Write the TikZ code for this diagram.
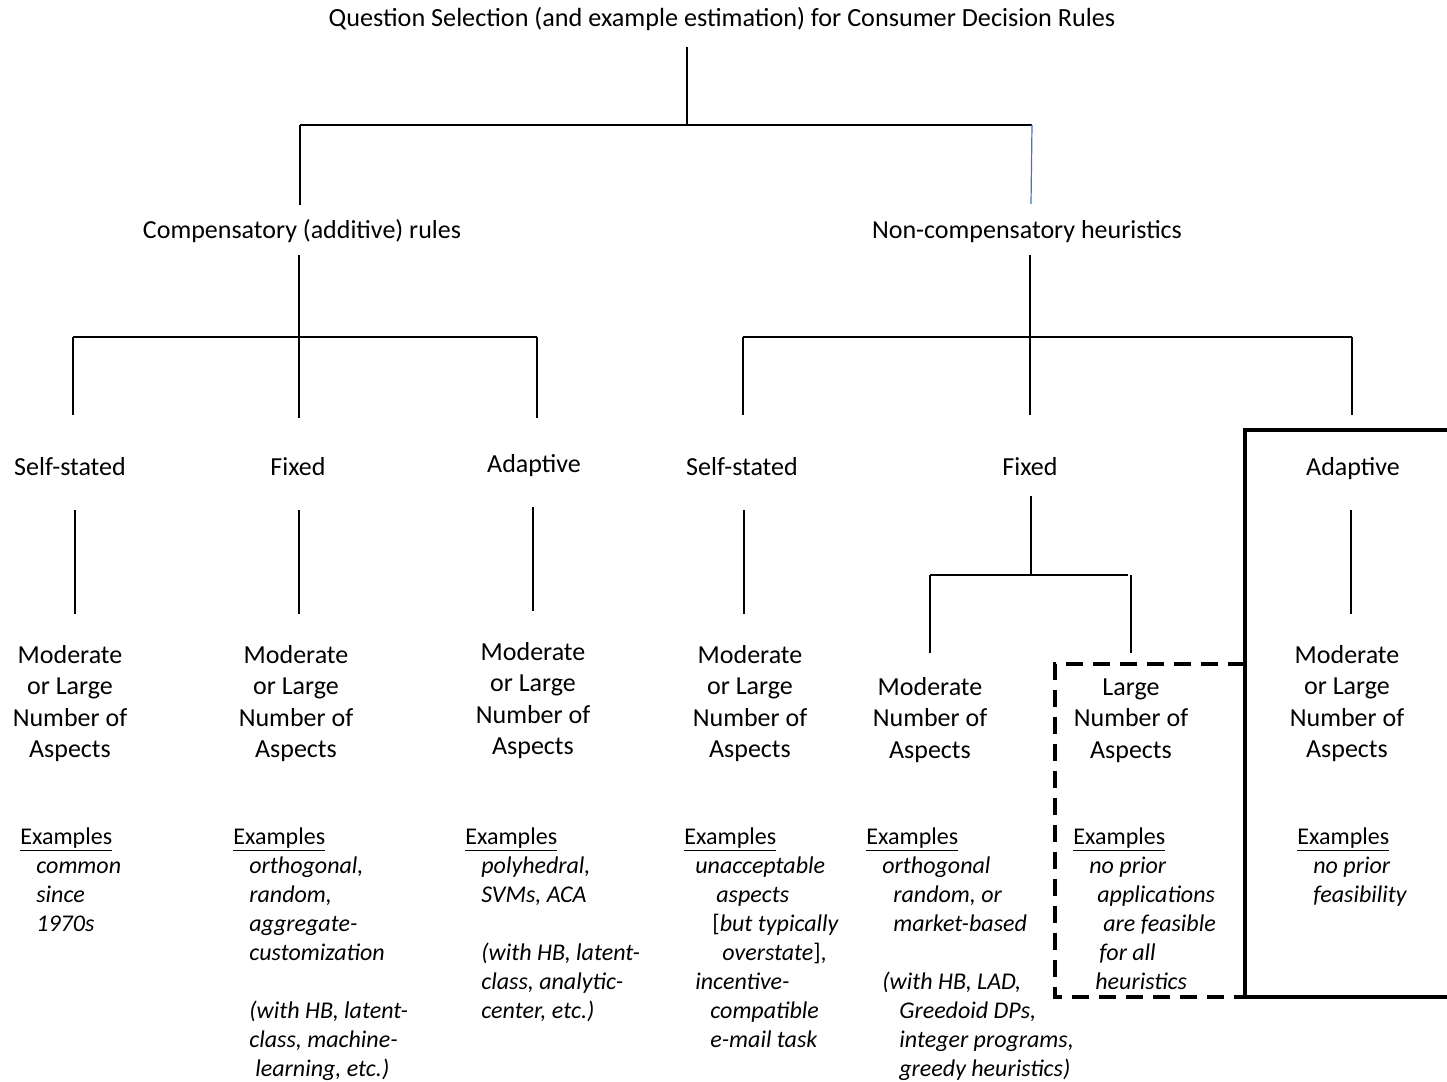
\documentclass[tikz,border=0pt]{standalone}
\usepackage{fontspec}
\setmainfont{Carlito}
\newcommand{\blk}[2]{\begin{tabular}[t]{@{}#1@{}}#2\end{tabular}}
\tikzset{
  lbl/.style={inner sep=0pt, anchor=base, font=\fontsize{13}{15.75}\selectfont},
  ttl/.style={inner sep=0pt, anchor=base, font=\fontsize{13.1}{15.75}\selectfont},
  asp/.style={inner sep=0pt, anchor=base, font=\fontsize{13}{15.75}\selectfont},
  exm/.style={inner sep=0pt, anchor=base west, font=\fontsize{12}{14.5}\selectfont},
  conn/.style={line width=0.8pt, black},
  blueconn/.style={line width=0.6pt, color={rgb,255:red,68;green,114;blue,196}},
  solidbox/.style={line width=1.9pt, black},
  dashbox/.style={line width=1.7pt, black, dash pattern=on 8.5pt off 5pt}
}
\begin{document}
\begin{tikzpicture}[x=0.5pt,y=-0.5pt]
\useasboundingbox (0,0) rectangle (1447,1082);

% ---------- labels ----------
\node[ttl] (title) at (722,26) {Question Selection (and example estimation) for Consumer Decision Rules};
\node[lbl] (comp) at (302,238) {Compensatory (additive) rules};
\node[lbl] (noncomp) at (1027,238) {Non-compensatory heuristics};

\node[lbl] (ss1) at (70,475) {Self-stated};
\node[lbl] (fx1) at (298,475) {Fixed};
\node[lbl] (ad1) at (534,472) {Adaptive};
\node[lbl] (ss2) at (742,475) {Self-stated};
\node[lbl] (fx2) at (1030,475) {Fixed};
\node[lbl] (ad2) at (1353,475) {Adaptive};

\node[asp] (m1) at (70,663) {\blk{c}{Moderate\\or Large\\Number of\\Aspects}};
\node[asp] (m2) at (296,663) {\blk{c}{Moderate\\or Large\\Number of\\Aspects}};
\node[asp] (m3) at (533,660) {\blk{c}{Moderate\\or Large\\Number of\\Aspects}};
\node[asp] (m4) at (750,663) {\blk{c}{Moderate\\or Large\\Number of\\Aspects}};
\node[asp] (m5) at (930,695) {\blk{c}{Moderate\\Number of\\Aspects}};
\node[asp] (m6) at (1131,695) {\blk{c}{Large\\Number of\\Aspects}};
\node[asp] (m7) at (1347,663) {\blk{c}{Moderate\\or Large\\Number of\\Aspects}};

% ---------- examples ----------
\node[exm] (e1) at (20,844) {\blk{l}{\underline{Examples}\\
\hspace*{8pt}\textit{common}\\
\hspace*{8pt}\textit{since}\\
\hspace*{8pt}\textit{1970s}}};
\node[exm] (e2) at (233,844) {\blk{l}{\underline{Examples}\\
\hspace*{8pt}\textit{orthogonal,}\\
\hspace*{8pt}\textit{random,}\\
\hspace*{8pt}\textit{aggregate-}\\
\hspace*{8pt}\textit{customization}\\
\\
\hspace*{8pt}\textit{(with HB, latent-}\\
\hspace*{8pt}\textit{class, machine-}\\
\hspace*{11pt}\textit{learning, etc.)}}};
\node[exm] (e3) at (465,844) {\blk{l}{\underline{Examples}\\
\hspace*{8pt}\textit{polyhedral,}\\
\hspace*{8pt}\textit{SVMs, ACA}\\
\\
\hspace*{8pt}\textit{(with HB, latent-}\\
\hspace*{8pt}\textit{class, analytic-}\\
\hspace*{8pt}\textit{center, etc.)}}};
\node[exm] (e4) at (684,844) {\blk{l}{\underline{Examples}\\
\hspace*{5.5pt}\textit{unacceptable}\\
\hspace*{16pt}\textit{aspects}\\
\hspace*{14pt}[\textit{but typically}\\
\hspace*{19pt}\textit{overstate}],\\
\hspace*{5.5pt}\textit{incentive-}\\
\hspace*{13pt}\textit{compatible}\\
\hspace*{13pt}\textit{e-mail task}}};
\node[exm] (e5) at (866,844) {\blk{l}{\underline{Examples}\\
\hspace*{8pt}\textit{orthogonal}\\
\hspace*{13.5pt}\textit{random, or}\\
\hspace*{13.5pt}\textit{market-based}\\
\\
\hspace*{8pt}\textit{(with HB, LAD,}\\
\hspace*{16.5pt}\textit{Greedoid DPs,}\\
\hspace*{16.5pt}\textit{integer programs,}\\
\hspace*{16.5pt}\textit{greedy heuristics)}}};
\node[exm] (e6) at (1073,844) {\blk{l}{\underline{Examples}\\
\hspace*{8pt}\textit{no prior}\\
\hspace*{12pt}\textit{applications}\\
\hspace*{15pt}\textit{are feasible}\\
\hspace*{13pt}\textit{for all}\\
\hspace*{11pt}\textit{heuristics}}};
\node[exm] (e7) at (1297,844) {\blk{l}{\underline{Examples}\\
\hspace*{8pt}\textit{no prior}\\
\hspace*{8pt}\textit{feasibility}}};

% ---------- connector points ----------
\coordinate (t0) at (687,47);   \coordinate (t1) at (687,125);
\coordinate (b0L) at (300,125); \coordinate (b0R) at (1032,125);
\coordinate (c0) at (300,205);  \coordinate (n0) at (1031,204);
\coordinate (c1) at (299,255);  \coordinate (c2) at (299,418);
\coordinate (b1L) at (73,337);  \coordinate (b1R) at (537,337);
\coordinate (s1t) at (73,415);  \coordinate (a1t) at (537,418);
\coordinate (n1) at (1030,255); \coordinate (n2) at (1030,415);
\coordinate (b2L) at (743,337); \coordinate (b2R) at (1352,337);
\coordinate (s2t) at (743,415); \coordinate (a2t) at (1352,415);
\coordinate (s1a) at (75,510);  \coordinate (s1b) at (75,614);
\coordinate (f1a) at (299,510); \coordinate (f1b) at (299,614);
\coordinate (a1a) at (533,507); \coordinate (a1b) at (533,611);
\coordinate (s2a) at (744,510); \coordinate (s2b) at (744,614);
\coordinate (f2a) at (1031,496); \coordinate (f2b) at (1031,575);
\coordinate (b3L) at (930,575); \coordinate (b3R) at (1128,575);
\coordinate (m5t) at (931,653); \coordinate (m6t) at (1131,653);
\coordinate (a2a) at (1351,510); \coordinate (a2b) at (1351,614);

% ---------- connectors ----------
\draw[conn] (t0) -- (t1);
\draw[conn] (b0L) -- (b0R);
\draw[conn] (b0L) -- (c0);
\draw[blueconn] (b0R) -- (n0);
\draw[conn] (c1) -- (c2);
\draw[conn] (b1L) -- (b1R);
\draw[conn] (b1L) -- (s1t);
\draw[conn] (b1R) -- (a1t);
\draw[conn] (n1) -- (n2);
\draw[conn] (b2L) -- (b2R);
\draw[conn] (b2L) -- (s2t);
\draw[conn] (b2R) -- (a2t);
\draw[conn] (s1a) -- (s1b);
\draw[conn] (f1a) -- (f1b);
\draw[conn] (a1a) -- (a1b);
\draw[conn] (s2a) -- (s2b);
\draw[conn] (f2a) -- (f2b);
\draw[conn] (b3L) -- (b3R);
\draw[conn] (m5t -| b3L) -- (b3L);
\draw[conn] (m6t) -- (m6t |- b3R);
\draw[conn] (a2a) -- (a2b);

% ---------- boxes ----------
\coordinate (sbTR) at (1447,430); \coordinate (sbTL) at (1245,430);
\coordinate (sbBL) at (1245,997); \coordinate (sbBR) at (1447,997);
\draw[solidbox] (sbTR) -- (sbTL) -- (sbBL) -- (sbBR);
\coordinate (dbTR) at (1245,664); \coordinate (dbTL) at (1055,664);
\coordinate (dbBL) at (1055,997); \coordinate (dbBR) at (1245,997);
\draw[dashbox] (dbTR) -- (dbTL) -- (dbBL) -- (dbBR);
\end{tikzpicture}
\end{document}
